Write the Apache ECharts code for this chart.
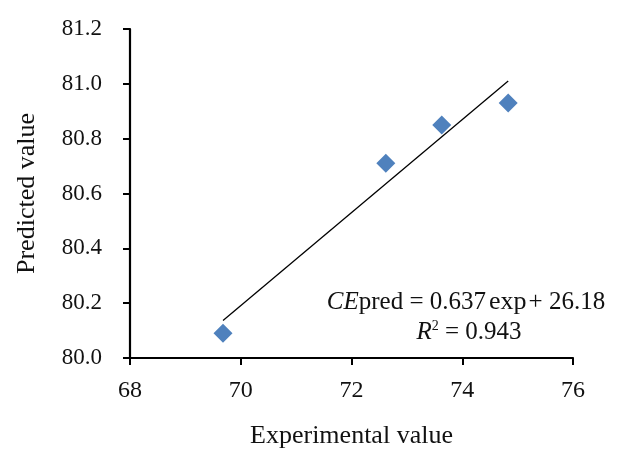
<!DOCTYPE html>
<html>
<head>
<meta charset="utf-8">
<script src="https://cdn.jsdelivr.net/npm/echarts@6/dist/echarts.min.js"></script>
<style>html,body{margin:0;padding:0;background:#fff;}#c{width:617px;height:454px;}</style>
</head>
<body>
<div id="c"></div>
<script>
const experimental = [69.68, 72.62, 73.63, 74.83];
const predicted = [80.09, 80.71, 80.85, 80.93];
const trendX = [69.68, 74.83];
const trendY = [80.137, 81.01];
const xTicks = [68, 70, 72, 74, 76];
const yTicks = [80.0, 80.2, 80.4, 80.6, 80.8, 81.0, 81.2];

const FONT = '"Liberation Serif", "DejaVu Serif", serif';
const chart = echarts.init(document.getElementById('c'), null, {renderer: 'canvas'});
chart.setOption({
  backgroundColor: '#fff',
  animation: false,
  grid: {left: 130, width: 443, top: 29, height: 330, containLabel: false},
  xAxis: {
    type: 'value', min: xTicks[0], max: xTicks[xTicks.length - 1], interval: 2,
    name: 'Experimental value', nameLocation: 'middle', nameGap: 65,
    nameTextStyle: {fontFamily: FONT, fontSize: 26, color: '#111'},
    axisLine: {show: true, lineStyle: {color: '#000', width: 2.2}},
    axisTick: {show: true, length: 7, lineStyle: {color: '#000', width: 2}},
    axisLabel: {fontFamily: FONT, fontSize: 24, color: '#111', margin: 21},
    splitLine: {show: false}
  },
  yAxis: {
    type: 'value', min: yTicks[0], max: yTicks[yTicks.length - 1], interval: 0.2,
    name: 'Predicted value', nameLocation: 'middle', nameGap: 90, nameRotate: 90,
    nameTextStyle: {fontFamily: FONT, fontSize: 26, color: '#111'},
    axisLine: {show: true, lineStyle: {color: '#000', width: 2.2}},
    axisTick: {show: true, length: 7, lineStyle: {color: '#000', width: 2}},
    axisLabel: {fontFamily: FONT, fontSize: 23, color: '#111', margin: 28,
      formatter: v => v.toFixed(1)},
    splitLine: {show: false}
  },
  series: [
    {
      type: 'line', data: trendX.map((x, i) => [x, trendY[i]]),
      symbol: 'none', lineStyle: {color: '#000', width: 1.3}, z: 1
    },
    {
      type: 'scatter', data: experimental.map((x, i) => [x, predicted[i]]),
      symbol: 'diamond', symbolSize: 19,
      itemStyle: {color: '#4f81bd', opacity: 1}, z: 2
    }
  ],
  graphic: [
    {
      type: 'text', x: 466, y: 302,
      style: {
        text: '{i|CE}{n|pred = 0.637}{e|exp}{n|+ 26.18}',
        align: 'center', verticalAlign: 'middle',
        rich: {
          i: {fontFamily: FONT, fontStyle: 'italic', fontSize: 25, fill: '#111'},
          n: {fontFamily: FONT, fontSize: 25, fill: '#111'},
          e: {fontFamily: FONT, fontSize: 26, fill: '#111', padding: [0, 2, 0, 3]}
        }
      }
    },
    {
      type: 'text', x: 469, y: 332,
      style: {
        text: '{i|R}{s|2}{n| = 0.943}',
        align: 'center', verticalAlign: 'middle',
        rich: {
          i: {fontFamily: FONT, fontStyle: 'italic', fontSize: 25, fill: '#111'},
          s: {fontFamily: FONT, fontSize: 14, fill: '#111', verticalAlign: 'top', padding: [0, 0, 12, 0]},
          n: {fontFamily: FONT, fontSize: 25, fill: '#111'}
        }
      }
    }
  ]
});
</script>
</body>
</html>
